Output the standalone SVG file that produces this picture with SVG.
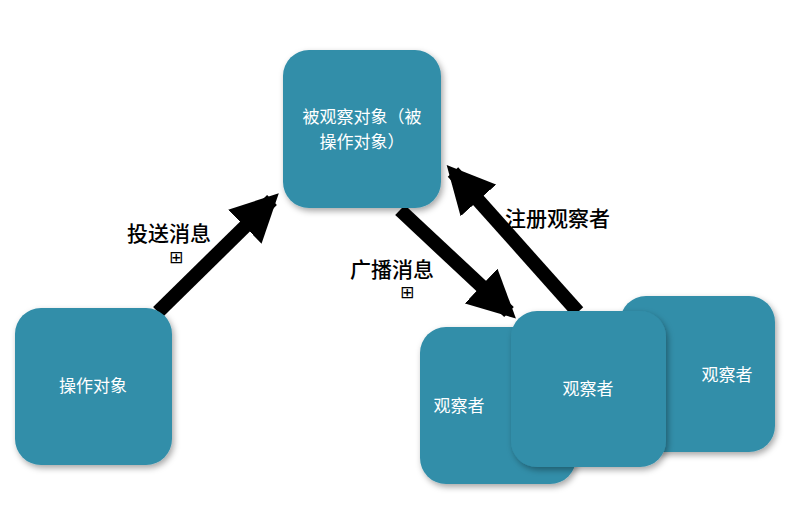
<svg xmlns="http://www.w3.org/2000/svg" width="800" height="529" viewBox="0 0 800 529">
<style>
.box{fill:#338ea9;filter:url(#sh)}
.t{fill:#fff;font-family:"Noto Sans CJK SC",sans-serif;font-size:17px;text-anchor:middle}
.l{fill:#000;font-family:"Noto Sans CJK SC",sans-serif;font-size:21px;font-weight:500}
.p{fill:#000;font-family:"DejaVu Sans",sans-serif;font-size:17px;text-anchor:middle}
.c{stroke:#000;stroke-width:14;fill:none}
</style>
<defs>
<filter id="sh" x="-10%" y="-10%" width="130%" height="130%"><feDropShadow dx="2" dy="3" stdDeviation="3" flood-opacity="0.35"/></filter>
<marker id="a" viewBox="0 0 10 10" refX="8" refY="5" markerWidth="3.4" markerHeight="3.4" orient="auto" markerUnits="strokeWidth"><path d="M0,0L10,5L0,10z" fill="#000"/></marker>
</defs>
<rect width="800" height="529" fill="#fff"/>
<g id="connectors">
<line class="c" x1="158" y1="312" x2="272" y2="200" marker-end="url(#a)"/>
<line class="c" x1="400" y1="210" x2="509" y2="312" marker-end="url(#a)"/>
<line class="c" x1="578" y1="312" x2="453" y2="172" marker-end="url(#a)"/>
</g>
<g id="target"><rect class="box" x="283" y="50" width="158" height="158" rx="26"/><text class="t" x="362" y="123">被观察对象（被</text><text class="t" x="362" y="148">操作对象）</text></g>
<g id="operator"><rect class="box" x="15" y="308" width="157" height="157" rx="26"/><text class="t" x="93" y="392">操作对象</text></g>
<g id="observer3"><rect class="box" x="620" y="296" width="155" height="156" rx="26"/><text class="t" x="727" y="381">观察者</text></g>
<g id="observer1"><rect class="box" x="420" y="327" width="156" height="157" rx="26"/><text class="t" x="459" y="412">观察者</text></g>
<g id="observer2"><rect class="box" x="511" y="311" width="155" height="156" rx="26"/><text class="t" x="588" y="395">观察者</text></g>
<g id="labels">
<text class="l" x="127" y="241">投送消息</text><text class="p" x="176" y="263">⊞</text>
<text class="l" x="350" y="277">广播消息</text><text class="p" x="407" y="298">⊞</text>
<text class="l" x="505" y="226">注册观察者</text>
</g>
</svg>
